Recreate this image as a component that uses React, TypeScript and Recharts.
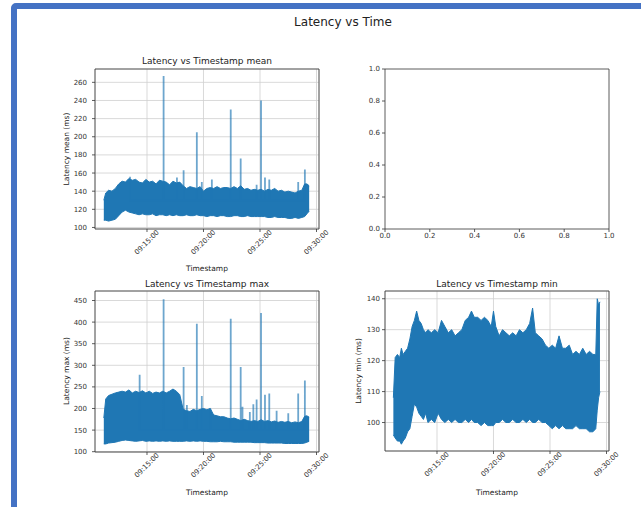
import { ComposedChart, Area, Line, XAxis, YAxis, CartesianGrid, ReferenceArea } from 'recharts';

// minutes after 09:00, shared by the mean and max panels
const envTimes = [
  11.18, 11.35, 11.6, 11.9, 12.2, 12.5, 12.8, 13.1, 13.4, 13.7,
  14.0, 14.3, 14.6, 14.9, 15.2, 15.5, 15.8, 16.1, 16.4, 16.7,
  17.0, 17.3, 17.6, 17.9, 18.2, 18.5, 18.8, 19.1, 19.4, 19.7,
  20.0, 20.3, 20.6, 20.9, 21.2, 21.5, 21.8, 22.1, 22.4, 22.7,
  23.0, 23.3, 23.6, 23.9, 24.2, 24.5, 24.8, 25.1, 25.4, 25.7,
  26.0, 26.3, 26.6, 26.9, 27.2, 27.5, 27.8, 28.1, 28.4, 28.7,
  28.95, 29.15, 29.35
];

const meanLow = [
  108, 108, 107, 108, 109, 113, 117, 119, 117, 116,
  115, 114, 115, 114, 114, 115, 113, 114, 114, 113,
  114, 113, 114, 113, 113, 114, 113, 113, 114, 113,
  113, 112, 113, 113, 112, 113, 113, 112, 112, 113,
  113, 112, 112, 113, 112, 112, 112, 112, 112, 111,
  111, 112, 111, 111, 111, 110, 110, 111, 110, 111,
  112, 115, 118
];
const meanHigh = [
  130, 138, 141, 140, 143, 148, 151, 150, 154, 152,
  153, 150, 149, 153, 150, 151, 148, 152, 151, 150,
  147, 151, 149, 150, 146, 143, 145, 144, 143, 145,
  140, 143, 144, 143, 145, 143, 144, 144, 143, 145,
  143, 146, 142, 143, 141, 142, 141, 142, 140, 142,
  141, 143, 140, 141, 139, 140, 139, 138, 140, 141,
  148, 148, 146
];
const meanSpikeTimes = [13.5, 16.47, 17.65, 18.24, 19.41, 19.85, 20.74, 22.41, 23.29, 24.7, 25.09, 25.44, 25.82, 28.38, 28.97];
const meanSpikeValues = [156, 267, 155, 163, 205, 150, 153, 230, 176, 147, 240, 155, 153, 150, 164];
const meanSpikeBase = 130;

const maxLow = [
  118, 118, 120, 121, 122, 124, 126, 127, 126, 125,
  124, 125, 126, 124, 125, 124, 125, 124, 125, 124,
  125, 124, 124, 124, 124, 125, 124, 125, 124, 125,
  124, 124, 123, 123, 123, 124, 123, 123, 123, 122,
  122, 122, 122, 122, 122, 121, 121, 121, 121, 120,
  120, 120, 120, 120, 119, 119, 119, 119, 119, 119,
  120, 122, 124
];
const maxHigh = [
  178, 222, 230, 233, 236, 238, 240, 238, 243, 236,
  240, 237, 241, 236, 240, 235, 238, 236, 240, 236,
  240, 245, 240, 232, 198, 195, 193, 198, 195, 198,
  200, 197, 200, 185, 183, 181, 181, 178, 176, 178,
  175, 172, 175, 172, 170, 172, 170, 174, 170, 172,
  169, 171, 168, 170, 168, 170, 167, 169, 167, 170,
  182, 183, 180
];
const maxSpikeTimes = [14.35, 16.47, 18.24, 18.53, 19.41, 19.85, 20.6, 22.41, 23.29, 23.45, 24.1, 24.41, 24.7, 25.09, 25.44, 25.82, 26.47, 27.5, 28.38, 28.97];
const maxSpikeValues = [278, 453, 296, 208, 396, 229, 200, 408, 296, 204, 192, 210, 221, 421, 232, 235, 195, 189, 235, 265];
const maxSpikeBase = 150;

const minTimes = [
  11.14, 11.3, 11.5, 11.7, 11.85, 12.0, 12.2, 12.4, 12.6, 12.8,
  13.0, 13.2, 13.4, 13.6, 13.8, 14.0, 14.2, 14.5, 14.8, 15.1,
  15.4, 15.7, 16.0, 16.3, 16.6, 16.9, 17.2, 17.5, 17.8, 18.05,
  18.3, 18.6, 18.9, 19.2, 19.5, 19.8, 20.0, 20.2, 20.5, 20.8,
  21.1, 21.4, 21.7, 22.0, 22.3, 22.6, 22.9, 23.2, 23.46, 23.7,
  24.0, 24.3, 24.6, 24.9, 25.2, 25.5, 25.8, 26.1, 26.4, 26.7,
  27.0, 27.3, 27.6, 27.9, 28.2, 28.5, 28.8, 29.05, 29.18, 29.3,
  29.42
];
const minLow = [
  96, 95, 94, 94, 93, 94, 95, 97, 98, 102,
  106, 105, 103, 102, 101, 103, 100, 101, 100, 103,
  101, 100, 101, 100, 101, 100, 100, 101, 100, 101,
  100, 100, 99, 100, 99, 99, 99, 100, 100, 101,
  100, 100, 101, 100, 100, 101, 100, 101, 100, 100,
  101, 100, 100, 99, 98, 99, 98, 99, 98, 98,
  98, 99, 98, 98, 98, 97, 97, 98, 104, 108,
  110
];
const minHigh = [
  108, 121, 122, 121, 124, 122, 123, 124, 127, 131,
  133, 136, 133, 132, 130, 129, 130, 129, 130, 129,
  133, 131, 129, 130, 128, 129, 130, 133, 134, 136,
  134, 134, 133, 134, 133, 131, 136, 131, 128, 130,
  129, 128, 129, 128, 130, 129, 130, 132, 137, 129,
  128, 127, 125, 124, 125, 124, 128, 124, 124, 125,
  122, 123, 122, 124, 122, 123, 122, 122, 140, 138,
  139
];

const timeTicks = [15, 20, 25, 30];
const unitTicks = [0, 0.2, 0.4, 0.6, 0.8, 1.0];
const meanTicks = [100, 120, 140, 160, 180, 200, 220, 240, 260];
const maxTicks = [100, 150, 200, 250, 300, 350, 400, 450];
const minTicks = [100, 110, 120, 130, 140];

const TIME_DOMAIN: [number, number] = [10.4, 30.22];
const BLUE = '#1f77b4';
const INK = '#333';

const makeBand = (times: number[], lo: number[], hi: number[]) =>
  times.map((t, i) => ({ t, range: [lo[i], hi[i]] }));

const makeSpikes = (times: number[], vals: number[], base: number) =>
  times.flatMap((t, i) => [
    { t, v: base },
    { t, v: vals[i] },
    { t, v: base }
  ]);

const fmtTime = (m: number) => `09:${String(Math.round(m)).padStart(2, '0')}:00`;

const TimeTick = (props: any) => {
  const { x, y, payload } = props;
  const cy = y + 10.5;
  return (
    <text
      x={x}
      y={cy}
      transform={`rotate(-45 ${x} ${cy})`}
      textAnchor="middle"
      dominantBaseline="central"
      fontSize={7}
      fill={INK}
    >
      {fmtTime(payload.value)}
    </text>
  );
};

const Label = ({ x, y, text, size, rotate }: { x: number; y: number; text: string; size: number; rotate?: boolean }) => (
  <div
    style={{
      position: 'absolute',
      left: x,
      top: y,
      fontSize: size,
      color: '#222',
      whiteSpace: 'nowrap',
      lineHeight: 1,
      transform: `translate(-50%, -50%)${rotate ? ' rotate(-90deg)' : ''}`
    }}
  >
    {text}
  </div>
);

const YW = 40;
const MT = 4;
const MR = 24;
const XH = 30;

type PanelProps = {
  left: number;
  top: number;
  w: number;
  h: number;
  yDomain: [number, number];
  yTicks: number[];
  yTickGap: number;
  band?: { t: number; range: number[] }[];
  spikes?: { t: number; v: number }[];
  time: boolean;
};

const Panel = ({ left, top, w, h, yDomain, yTicks, yTickGap, band, spikes, time }: PanelProps) => {
  const xDomain: [number, number] = time ? TIME_DOMAIN : [0, 1];
  return (
    <div style={{ position: 'absolute', left: left - YW, top: top - MT }}>
      <ComposedChart
        width={YW + w + MR}
        height={MT + h + XH}
        data={band ?? []}
        margin={{ top: MT, right: MR, left: 0, bottom: 0 }}
      >
        {time && <CartesianGrid stroke="#cfcfcf" strokeWidth={0.8} />}
        <XAxis
          dataKey="t"
          type="number"
          domain={xDomain}
          allowDataOverflow
          ticks={time ? timeTicks : unitTicks}
          height={XH}
          axisLine={false}
          tickLine={{ stroke: INK, strokeWidth: 0.8 }}
          tickSize={3}
          tickMargin={time ? 0 : 1}
          tick={time ? <TimeTick /> : { fontSize: 7, fill: INK }}
          tickFormatter={time ? undefined : (v: number) => v.toFixed(1)}
          interval={0}
        />
        <YAxis
          type="number"
          domain={yDomain}
          allowDataOverflow
          ticks={yTicks}
          width={YW}
          axisLine={false}
          tickLine={{ stroke: INK, strokeWidth: 0.8 }}
          tickSize={3}
          tickMargin={yTickGap}
          tick={{ fontSize: 7, fill: INK }}
          tickFormatter={time ? undefined : (v: number) => v.toFixed(1)}
          interval={0}
        />
        {band && (
          <Area
            dataKey="range"
            type="linear"
            stroke={BLUE}
            strokeWidth={1}
            fill={BLUE}
            fillOpacity={1}
            isAnimationActive={false}
            dot={false}
            activeDot={false}
          />
        )}
        {spikes && (
          <Line
            data={spikes}
            dataKey="v"
            type="linear"
            stroke={BLUE}
            strokeOpacity={0.65}
            strokeWidth={1.8}
            dot={false}
            activeDot={false}
            isAnimationActive={false}
          />
        )}
        <ReferenceArea
          x1={xDomain[0]}
          x2={xDomain[1]}
          y1={yDomain[0]}
          y2={yDomain[1]}
          fill="none"
          stroke={INK}
          strokeWidth={0.8}
          ifOverflow="visible"
        />
      </ComposedChart>
    </div>
  );
};

export default function App() {
  return (
    <div
      style={{
        position: 'absolute',
        left: 0,
        top: 0,
        width: 641,
        height: 507,
        overflow: 'hidden',
        background: '#fff',
        fontFamily: '"DejaVu Sans", sans-serif'
      }}
    >
      <div
        style={{
          position: 'absolute',
          left: 11,
          top: 3,
          width: 720,
          height: 502,
          border: '6px solid #4472c4',
          borderRadius: 5
        }}
      />
      <Label x={343} y={22} text="Latency vs Time" size={12} />

      <Panel
        left={95}
        top={69}
        w={224}
        h={160}
        yDomain={[98.3, 274.7]}
        yTicks={meanTicks}
        yTickGap={5}
        band={makeBand(envTimes, meanLow, meanHigh)}
        spikes={makeSpikes(meanSpikeTimes, meanSpikeValues, meanSpikeBase)}
        time
      />
      <Label x={207} y={61} text="Latency vs Timestamp mean" size={9} />
      <Label x={67} y={149} text="Latency mean (ms)" size={7.5} rotate />
      <Label x={207} y={269} text="Timestamp" size={7.5} />

      <Panel
        left={385}
        top={69}
        w={224}
        h={160}
        yDomain={[0, 1]}
        yTicks={unitTicks}
        yTickGap={2}
        time={false}
      />

      <Panel
        left={95}
        top={291}
        w={224}
        h={161}
        yDomain={[99.3, 472]}
        yTicks={maxTicks}
        yTickGap={5}
        band={makeBand(envTimes, maxLow, maxHigh)}
        spikes={makeSpikes(maxSpikeTimes, maxSpikeValues, maxSpikeBase)}
        time
      />
      <Label x={207} y={284} text="Latency vs Timestamp max" size={9} />
      <Label x={67} y={371} text="Latency max (ms)" size={7.5} rotate />
      <Label x={207} y={493} text="Timestamp" size={7.5} />

      <Panel
        left={385}
        top={291}
        w={224}
        h={160}
        yDomain={[90.8, 142.5]}
        yTicks={minTicks}
        yTickGap={2}
        band={makeBand(minTimes, minLow, minHigh)}
        time
      />
      <Label x={497} y={284} text="Latency vs Timestamp min" size={9} />
      <Label x={359} y={371} text="Latency min (ms)" size={7.5} rotate />
      <Label x={497} y={493} text="Timestamp" size={7.5} />
    </div>
  );
}
